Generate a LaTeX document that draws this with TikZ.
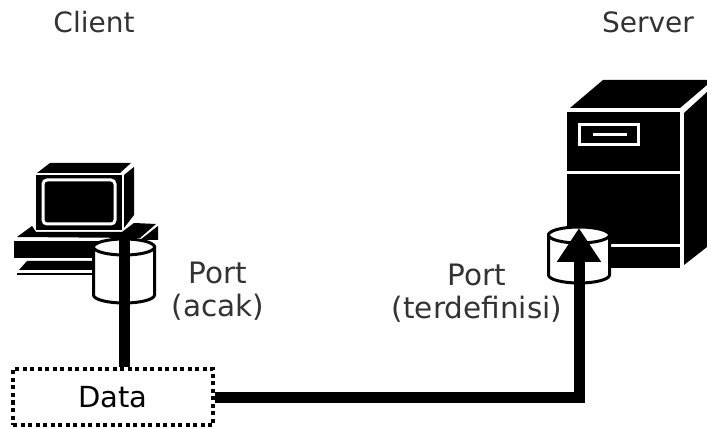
\documentclass[tikz,border=0pt]{standalone}
\usepackage{fontspec}
\setmainfont{DejaVu Sans}
\usetikzlibrary{arrows.meta,positioning}
\tikzset{
  every node/.append style={font=\fontsize{28}{33}\selectfont, align=center},
  label/.style={inner sep=0pt, text=black!80},
  portlabel/.style={label, font=\fontsize{29.5}{33}\selectfont},
  drumline/.style={draw=black, line width=3pt, fill=white},
  portdrum/.pic={
    \draw[drumline] (-30.5,0) -- (-30.5,#1) arc[start angle=180, end angle=0, x radius=30.5, y radius=8]
      -- (30.5,0) -- cycle;
    \draw[drumline] (0,0) ellipse[x radius=30.5, y radius=8];
    \coordinate (-top) at (0,-7);
  },
  databox/.style={draw=black, line width=4pt, dash pattern=on 4pt off 3.5pt, fill=white,
                  minimum width=200pt, minimum height=56pt, inner sep=0pt},
  link/.style={draw=black, line width=11pt},
  linkarrow/.style={link, -{Triangle[length=34pt,width=42pt]}},
  solid/.style={fill=black, draw=none},
  gap/.style={draw=white, line width=3pt},
}
\begin{document}
\begin{tikzpicture}[x=1pt,y=-1pt]
  \useasboundingbox[fill=white] (0,0) rectangle (707,430);
  % client machine
  \fill[solid] (37,173) -- (50,163) -- (131,163) -- (120,173) -- cycle;
  \fill[solid] (36,175) rectangle (122,230);
  \fill[solid] (124,175) -- (134,167) -- (134,215) -- (124,228) -- cycle;
  \draw[gap, rounded corners=4pt] (43,180) rectangle (115,224);
  \fill[solid] (17,237) -- (32,226) -- (36,232) -- (122,232) -- (134,223) -- (156,224) -- (140,238) -- cycle;
  \fill[solid] (14,241) rectangle (100,258);
  \fill[solid] (140,240) -- (158,226) -- (158,240) -- cycle;
  \fill[solid] (19,270) -- (27,261) -- (100,261) -- (100,270) -- cycle;
  \draw[black, line width=1.5pt] (17,274) -- (100,274);
  % server machine
  \fill[solid] (570,108) -- (603,80) -- (707,80) -- (707,85) -- (680,108) -- cycle;
  \fill[solid] (567,112) rectangle (680,268);
  \fill[solid] (684,113) -- (707,92) -- (707,247) -- (684,265) -- cycle;
  \draw[gap] (567,172.5) -- (680,172.5);
  \draw[gap] (579.5,124.5) rectangle (638.5,144.5);
  \draw[gap] (593,135) -- (627,135);
  \draw[gap] (605,246) -- (680,246);
  % ports
  \pic (portclient) at (124,247) {portdrum=48};
  \pic (portserver) at (579,235) {portdrum=40};
  \fill[solid] (579,222) circle (0pt);
  % data
  \node[databox, font=\fontsize{29}{33}\selectfont] (data) at (113,397) {Data};
  \draw[link] (portclient-top) -- (portclient-top |- data.north);
  \draw[linkarrow] (data.east) -| (portserver-top);
  % labels
  \node[label] (clientname) at (94,22) {Client};
  \node[label] (servername) at (648,22) {Server};
  \node[portlabel] (portacak) at (218,291) {Port\\(acak)};
  \node[portlabel] (portdefined) at (477,293) {Port\\(terdefinisi)};
\end{tikzpicture}
\end{document}
